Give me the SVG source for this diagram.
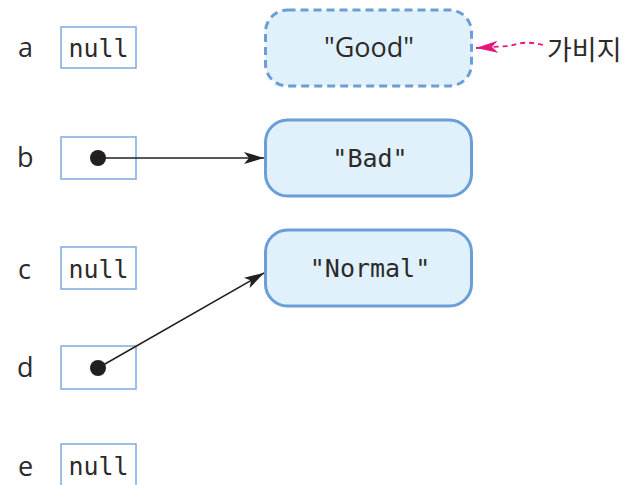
<svg xmlns="http://www.w3.org/2000/svg" width="630" height="485" viewBox="0 0 630 485">
<style>
.lbl{font-family:"Open Sans","DejaVu Sans",sans-serif;font-size:27px;fill:#2b2b2b}
.ref{fill:#ffffff;stroke:#7ea9dd;stroke-width:1.5}
.mono{font-family:"DejaVu Sans Mono","Liberation Mono",monospace;font-size:25px;fill:#2b2b2b}
.obj{fill:#e0f1fc;stroke:#6a9ed6;stroke-width:3}
.dot{fill:#231f20}
.conn{stroke:#231f20;stroke-width:1.5;fill:none}
</style>
<defs>
<marker id="ah" viewBox="0 0 20 12" refX="20" refY="6" markerWidth="20" markerHeight="12" markerUnits="userSpaceOnUse" orient="auto">
<path d="M0,0 L20,6 L0,12 L5,6 Z" fill="#231f20"/>
</marker>
<marker id="ahm" viewBox="0 0 22 12" refX="22" refY="6" markerWidth="22" markerHeight="12" markerUnits="userSpaceOnUse" orient="auto">
<path d="M0,0 L22,6 L0,12 L6,6 Z" fill="#e5177f"/>
</marker>
</defs>
<g id="var-a"><text class="lbl" x="18" y="57">a</text><rect class="ref" x="61" y="27" width="75" height="41"/><text class="mono" x="98.5" y="57" text-anchor="middle">null</text></g>
<g id="var-b"><text class="lbl" x="17" y="167">b</text><rect class="ref" x="61" y="137" width="75" height="42"/><circle class="dot" cx="98" cy="158" r="8"/></g>
<g id="var-c"><text class="lbl" x="18" y="279">c</text><rect class="ref" x="61" y="247" width="75" height="42"/><text class="mono" x="98.5" y="278" text-anchor="middle">null</text></g>
<g id="var-d"><text class="lbl" x="17" y="377">d</text><rect class="ref" x="61" y="346" width="75" height="43"/><circle class="dot" cx="98" cy="368" r="8"/></g>
<g id="var-e"><text class="lbl" x="18" y="476">e</text><rect class="ref" x="61" y="444" width="75" height="50"/><text class="mono" x="98.5" y="475" text-anchor="middle">null</text></g>
<g id="obj-good"><rect class="obj" x="265.5" y="10" width="206" height="76" rx="22" stroke-dasharray="8,5"/><text x="369" y="57" text-anchor="middle" style="font-family:'Open Sans','DejaVu Sans',sans-serif;font-size:27px;fill:#2b2b2b">"Good"</text></g>
<g id="obj-bad"><rect class="obj" x="265.5" y="120" width="206" height="76" rx="22"/><text class="mono" x="370" y="167" text-anchor="middle">"Bad"</text></g>
<g id="obj-normal"><rect class="obj" x="265.5" y="230" width="206" height="76" rx="22"/><text class="mono" x="370" y="277" text-anchor="middle">"Normal"</text></g>
<g id="garbage-label"><text x="547" y="60" style="font-family:'Noto Sans CJK KR',sans-serif;font-size:27px;fill:#2b2b2b">가비지</text></g>
<g id="connectors">
<line class="conn" x1="98" y1="158" x2="264" y2="158" marker-end="url(#ah)"/>
<line class="conn" x1="98" y1="368" x2="264" y2="273" marker-end="url(#ah)"/>
<path d="M543,45 Q525,40 510,46 L476,48" fill="none" stroke="#e5177f" stroke-width="1.8" stroke-dasharray="5,4" marker-end="url(#ahm)"/>
</g>
</svg>
